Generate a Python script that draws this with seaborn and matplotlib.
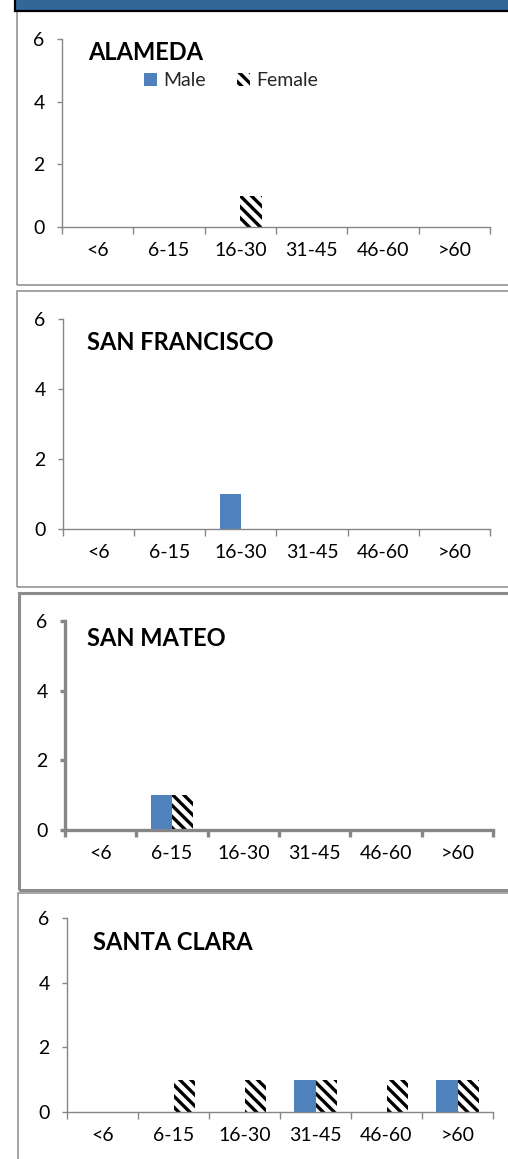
import matplotlib
matplotlib.use("Agg")
import matplotlib.pyplot as plt
from matplotlib.patches import Rectangle, Patch
import pandas as pd
import seaborn as sns

# Age bands and counts by county and sex
age_groups = ["<6", "6-15", "16-30", "31-45", "46-60", ">60"]
counties = ["ALAMEDA", "SAN FRANCISCO", "SAN MATEO", "SANTA CLARA"]
male_counts = {
    "ALAMEDA":       [0, 0, 0, 0, 0, 0],
    "SAN FRANCISCO": [0, 0, 1, 0, 0, 0],
    "SAN MATEO":     [0, 1, 0, 0, 0, 0],
    "SANTA CLARA":   [0, 0, 0, 1, 0, 1],
}
female_counts = {
    "ALAMEDA":       [0, 0, 1, 0, 0, 0],
    "SAN FRANCISCO": [0, 0, 0, 0, 0, 0],
    "SAN MATEO":     [0, 1, 0, 0, 0, 0],
    "SANTA CLARA":   [0, 1, 1, 1, 1, 1],
}
y_ticks = [0, 2, 4, 6]
sexes = ["Male", "Female"]

W, H = 508, 1159
sns.set_theme(style="white")
plt.rcParams["font.family"] = ["Lato", "DejaVu Sans"]
plt.rcParams["hatch.linewidth"] = 2.4

fig = plt.figure(figsize=(W / 100, H / 100), dpi=100)

MALE_COLOR = "#4F81BD"
AXIS_GRAY = "#868686"
FRAME_GRAY = "#8C8C8C"
HATCH = "\\\\\\"
LABEL_SIZE = 14


def fx(px):
    return px / W


def fy(py):
    return 1 - py / H


# Header band
fig.add_artist(Rectangle((fx(15), fy(11)), fx(520) - fx(15), fy(-5) - fy(11),
                         transform=fig.transFigure, facecolor="#336699",
                         edgecolor="black", linewidth=1.6, zorder=5))

# Panel frames: (left, top, right, bottom, linewidth)
frames = [
    (17, 11, 520, 285, 1.1),
    (17, 291, 520, 587, 1.1),
    (19, 593, 520, 890, 2.2),
    (18, 893, 520, 1175, 1.1),
]
for l, t, r, b, lw in frames:
    fig.add_artist(Rectangle((fx(l), fy(b)), fx(r) - fx(l), fy(t) - fy(b),
                             transform=fig.transFigure, facecolor="none",
                             edgecolor=FRAME_GRAY, linewidth=lw, zorder=1))

# Axes boxes in pixels: (left, right, top(y=6), bottom(y=0)), spine width, title pos
layout = [
    ((62, 490, 39, 227), 1.0, (88, 53)),
    ((63, 490, 319, 529), 1.0, (87, 342)),
    ((65, 493, 621, 830), 2.4, (87, 638)),
    ((67, 493, 918, 1112), 1.0, (93, 943)),
]

for county, ((l, r, t, b), spw, (tx, ty)) in zip(counties, layout):
    ax = fig.add_axes([fx(l), fy(b), fx(r) - fx(l), fy(t) - fy(b)])
    ax.set_facecolor("none")
    df = pd.DataFrame({
        "age": age_groups * 2,
        "sex": ["Male"] * 6 + ["Female"] * 6,
        "count": male_counts[county] + female_counts[county],
    })
    sns.barplot(data=df, x="age", y="count", hue="sex", hue_order=sexes,
                order=age_groups, palette=[MALE_COLOR, "white"], width=0.6,
                gap=0, legend=False, ax=ax, saturation=1, errorbar=None)
    for p in ax.containers[0]:
        p.set_linewidth(0)
    for p in ax.containers[1]:
        p.set_facecolor("white")
        p.set_edgecolor("black")
        p.set_hatch(HATCH)
        p.set_linewidth(0)

    ax.set_xlim(-0.5, 5.5)
    ax.set_ylim(0, 6)
    ax.set_xlabel("")
    ax.set_ylabel("")
    for s in ["top", "right"]:
        ax.spines[s].set_visible(False)
    for s in ["left", "bottom"]:
        ax.spines[s].set_color(AXIS_GRAY)
        ax.spines[s].set_linewidth(spw)

    # Category boundaries carry the tick marks; labels sit at centres
    ax.set_xticks([i - 0.5 for i in range(7)])
    ax.set_xticklabels([])
    ax.set_xticks(range(6), minor=True)
    ax.set_xticklabels(age_groups, minor=True)
    ax.tick_params(axis="x", which="major", direction="out", length=5,
                   width=spw, color=AXIS_GRAY, bottom=True)
    ax.tick_params(axis="x", which="minor", length=0, pad=11,
                   labelsize=LABEL_SIZE, labelcolor="black")
    ax.set_yticks(y_ticks)
    ax.tick_params(axis="y", direction="out", length=3.5, width=spw,
                   color=AXIS_GRAY, left=True, pad=9, labelsize=LABEL_SIZE,
                   labelcolor="black")

    fig.text(fx(tx), fy(ty), county, fontsize=17, fontweight="bold",
             ha="left", va="center", color="black")

    if county == "ALAMEDA":
        handles = [
            Patch(facecolor=MALE_COLOR, linewidth=0, label="Male"),
            Patch(facecolor="white", edgecolor="black", hatch=HATCH,
                  linewidth=0, label="Female"),
        ]
        ax.legend(handles=handles, ncol=2, frameon=False, fontsize=LABEL_SIZE,
                  loc="center left",
                  bbox_to_anchor=(fx(144), fy(81)),
                  bbox_transform=fig.transFigure,
                  handlelength=0.65, handleheight=0.65, handletextpad=0.35,
                  columnspacing=1.6, borderaxespad=0, borderpad=0)

fig.savefig("out.png", dpi=100)
